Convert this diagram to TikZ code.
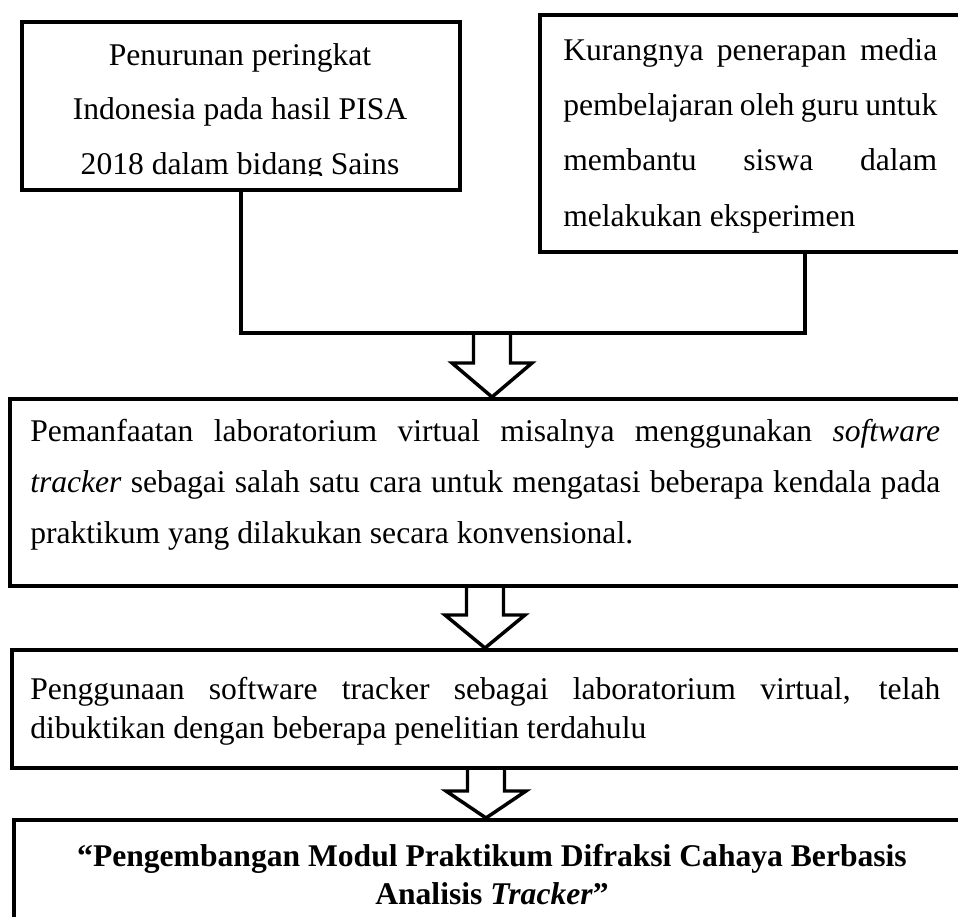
\documentclass[tikz,border=0pt]{standalone}
\usepackage{fontspec}
\setmainfont{Liberation Serif}
\usetikzlibrary{calc,fit}
\tikzset{
  boxst/.style={draw, line width=3pt, rectangle, inner sep=0pt},
  conn/.style={line width=3pt, line join=miter},
  arrowst/.style={line width=2.6pt, line join=miter},
  txt/.style={inner sep=0pt, font=\fontsize{23.7}{28}\selectfont},
  btxt/.style={inner sep=0pt, font=\fontsize{23.7}{28}\selectfont\bfseries},
}
\newcommand\blkarrow[3]{%
  \draw[arrowst] ($(#1)+(-18.5,0)$) -- ($(#2)+(-18.5,-#3)$) -- ($(#2)+(-40,-#3)$)
     -- (#2) -- ($(#2)+(40,-#3)$) -- ($(#2)+(18.5,-#3)$) -- ($(#1)+(18.5,0)$);}
\begin{document}
\begin{tikzpicture}[x=0.75pt,y=-0.75pt]
\useasboundingbox (0,0) rectangle (958,917);
\clip (0,0) rectangle (958,917);
\fill[white] (0,0) rectangle (958,917);

% boxes
\node[boxst, fit={(22,22) (460,190)}] (b1) {};
\node[boxst, fit={(540,15) (975,252)}] (b2) {};
\node[boxst, fit={(10,399) (975,586)}] (b3) {};
\node[boxst, fit={(12,650) (975,768)}] (b4) {};
\node[boxst, fit={(14,820) (975,960)}] (b5) {};

% box 1 text (clipped at the bottom as in the reference)
\begin{scope}
\clip (22,22) rectangle (460,175.5);
\node[txt, anchor=base] (t1a) at (240,66) {Penurunan peringkat};
\node[txt, anchor=base] (t1b) at (240,120) {Indonesia pada hasil PISA};
\node[txt, anchor=base] (t1c) at (240,175) {2018 dalam bidang Sains};
\end{scope}

% box 2 text
\node[txt, anchor=base west] (t2a) at (563,61) {\makebox[280.5pt][s]{Kurangnya penerapan media}};
\node[txt, anchor=base west] (t2b) at (563,116) {\makebox[280.5pt][s]{pembelajaran oleh guru untuk}};
\node[txt, anchor=base west] (t2c) at (563,171) {\makebox[280.5pt][s]{membantu siswa dalam}};
\node[txt, anchor=base west] (t2d) at (563,226) {melakukan eksperimen};

% box 3 text
\node[txt, anchor=base west] (t3a) at (30,441) {\makebox[682.5pt][s]{Pemanfaatan laboratorium virtual misalnya menggunakan \textit{software}}};
\node[txt, anchor=base west] (t3b) at (30,492) {\makebox[682.5pt][s]{\textit{tracker} sebagai salah satu cara untuk mengatasi beberapa kendala pada}};
\node[txt, anchor=base west] (t3c) at (30,543) {praktikum yang dilakukan secara konvensional.};

% box 4 text
\node[txt, anchor=base west] (t4a) at (30,699) {\makebox[682.5pt][s]{Penggunaan software tracker sebagai laboratorium virtual, telah}};
\node[txt, anchor=base west] (t4b) at (30,738) {dibuktikan dengan beberapa penelitian terdahulu};

% box 5 text
\node[btxt, anchor=base] (t5a) at (492,866) {“Pengembangan Modul Praktikum Difraksi Cahaya Berbasis};
\node[btxt, anchor=base] (t5b) at (492,904) {Analisis \textit{Tracker}”};

% connectors
\coordinate (x805) at (805,0);
\coordinate (jn) at (492,333);
\coordinate (ax1) at (492,0);
\coordinate (ax2) at (485,0);
\coordinate (ax3) at (486,0);
\draw[conn] (b1.south) |- (jn) -| (b2.south -| x805);

\blkarrow{jn}{b3.north -| ax1}{34}
\blkarrow{b3.south -| ax2}{b4.north -| ax2}{33}
\blkarrow{b4.south -| ax3}{b5.north -| ax3}{27}
\end{tikzpicture}
\end{document}
